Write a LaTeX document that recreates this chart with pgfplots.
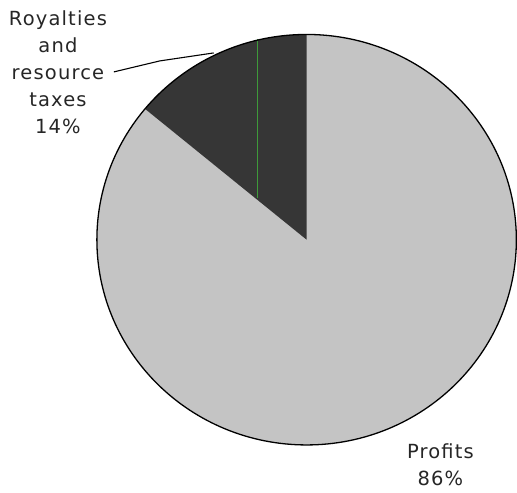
\documentclass[border=0pt]{standalone}
\usepackage{pgfplots}
\usepackage{pgfplotstable}
\pgfplotsset{compat=1.18}
\usepackage{fontspec}
\setmainfont{DejaVu Sans}[LetterSpace=6]
\definecolor{lightpie}{HTML}{C4C4C4}
\definecolor{darkpie}{HTML}{363636}
\definecolor{scanline}{HTML}{3E9A3A}
\pgfplotstableread{
share value
royalties 14
profits 86
}\piedata
\pgfplotstablegetelem{0}{value}\of\piedata
\let\vRoy\pgfplotsretval
\pgfmathsetmacro{\endang}{90+3.6*\vRoy}
\begin{document}
\begin{tikzpicture}
\begin{axis}[
  scale only axis, width=517bp, height=493bp,
  xmin=0, xmax=517, ymin=0, ymax=493,
  hide axis, clip=false,
]
\path (axis cs:0,0) rectangle (axis cs:517,493);
% profits (whole disc) then royalties wedge
\fill[lightpie] (axis cs:307,253) ellipse[x radius=210, y radius=205.5];
\fill[darkpie] (axis cs:307,253) -- (axis cs:307,458.5)
  arc[start angle=90, end angle=\endang, x radius=210, y radius=205.5] -- cycle;
\addplot[scanline, line width=1.2pt] coordinates {(258,454) (258,295)};
\draw[black, line width=1.3pt] (axis cs:307,253) ellipse[x radius=210, y radius=205.5];
\addplot[black, line width=1.1pt] coordinates {(114,421) (160,432) (214,440)};
\node[font=\fontsize{19.5bp}{27bp}\selectfont, text=black!85, align=center, anchor=center]
  at (axis cs:58,421) {Royalties\\and\\resource\\taxes\\14\%};
\node[font=\fontsize{19.5bp}{27bp}\selectfont, text=black!85, align=center, anchor=center]
  at (axis cs:441,28) {Profits\\86\%};
\end{axis}
\end{tikzpicture}
\end{document}
